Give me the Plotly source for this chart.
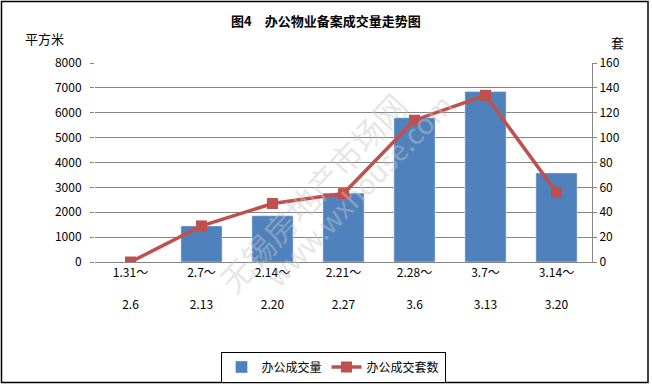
import plotly.graph_objects as go

categories = ["1.31～<br> <br>2.6", "2.7～<br> <br>2.13", "2.14～<br> <br>2.20", "2.21～<br> <br>2.27",
              "2.28～<br> <br>3.6", "3.7～<br> <br>3.13", "3.14～<br> <br>3.20"]
area_values = [0, 1450, 1860, 2770, 5800, 6850, 3580]
unit_values = [0, 29, 47, 55, 114, 134, 56]
bar_name = "办公成交量"
line_name = "办公成交套数"
title_text = "图4　办公物业备案成交量走势图"

W, H = 652, 387
L, R, T, B = 95, 592, 63, 262
pw, ph = R - L, B - T

def px(x):
    return (x - L) / pw

def py(y):
    return (B - y) / ph

FONT = "SimSun, 'Noto Sans CJK SC', sans-serif"
idx = list(range(len(categories)))

fig = go.Figure()
fig.add_trace(go.Bar(x=idx, y=area_values, name=bar_name, marker_color="#4F81BD",
                     width=0.58, yaxis="y"))
fig.add_trace(go.Scatter(x=idx, y=unit_values, name=line_name, mode="lines+markers",
                         line=dict(color="#C0504D", width=3.5),
                         marker=dict(symbol="square", size=11, color="#C0504D"),
                         yaxis="y2"))

fig.update_layout(
    width=W, height=H,
    margin=dict(l=L, r=W - R, t=T, b=H - B, pad=0, autoexpand=False),
    paper_bgcolor="white", plot_bgcolor="white",
    font=dict(family=FONT, size=12, color="black"),
    showlegend=True,
    legend=dict(orientation="h", xref="container", yref="container",
                x=333 / W, y=1 - 367 / H, xanchor="center", yanchor="middle",
                bordercolor="black", borderwidth=1, bgcolor="white",
                font=dict(size=12), itemwidth=30, tracegroupgap=0),
    bargap=0.42,
    xaxis=dict(tickmode="array", tickvals=idx, ticktext=categories, range=[-0.5, 6.5],
               showline=True, linecolor="#868686", linewidth=1, ticks="", showgrid=False,
               tickfont=dict(size=12), fixedrange=True),
    yaxis=dict(range=[0, 8000], dtick=1000, showgrid=True, gridcolor="#868686", gridwidth=1,
               showline=False, ticks="outside", ticklen=4, tickcolor="#868686",
               zeroline=False, tickfont=dict(size=12), ticklabelstandoff=6),
    yaxis2=dict(range=[0, 160], dtick=20, overlaying="y", side="right", showgrid=False,
                showline=True, linecolor="#868686", linewidth=1, ticks="outside", ticklen=4,
                tickcolor="#868686", zeroline=False, tickfont=dict(size=12)),
    annotations=[
        dict(text="<b>" + title_text + "</b>", x=px(326), y=py(20), xref="paper", yref="paper",
             showarrow=False, xanchor="center", yanchor="middle", font=dict(size=13)),
        dict(text="平方米", x=px(44), y=py(39), xref="paper", yref="paper",
             showarrow=False, xanchor="center", yanchor="middle", font=dict(size=13)),
        dict(text="套", x=px(617), y=py(42), xref="paper", yref="paper",
             showarrow=False, xanchor="center", yanchor="middle", font=dict(size=13)),
        dict(text="无锡房地产市场网", x=px(312), y=py(192), xref="paper", yref="paper",
             showarrow=False, textangle=-47, font=dict(size=32, color="rgba(200,200,200,0.45)")),
        dict(text="www.wxhouse.com", x=px(358), y=py(190), xref="paper", yref="paper",
             showarrow=False, textangle=-46, font=dict(size=28, color="rgba(200,200,200,0.45)")),
    ],
    shapes=[
        dict(type="rect", xref="paper", yref="paper", x0=px(1.5), x1=px(648), y0=py(382.5), y1=py(1.5),
             line=dict(color="black", width=1.5), layer="below"),
    ],
)

fig.write_html("out.html", config={"displayModeBar": False},
               post_script="document.body.style.margin='0';")
